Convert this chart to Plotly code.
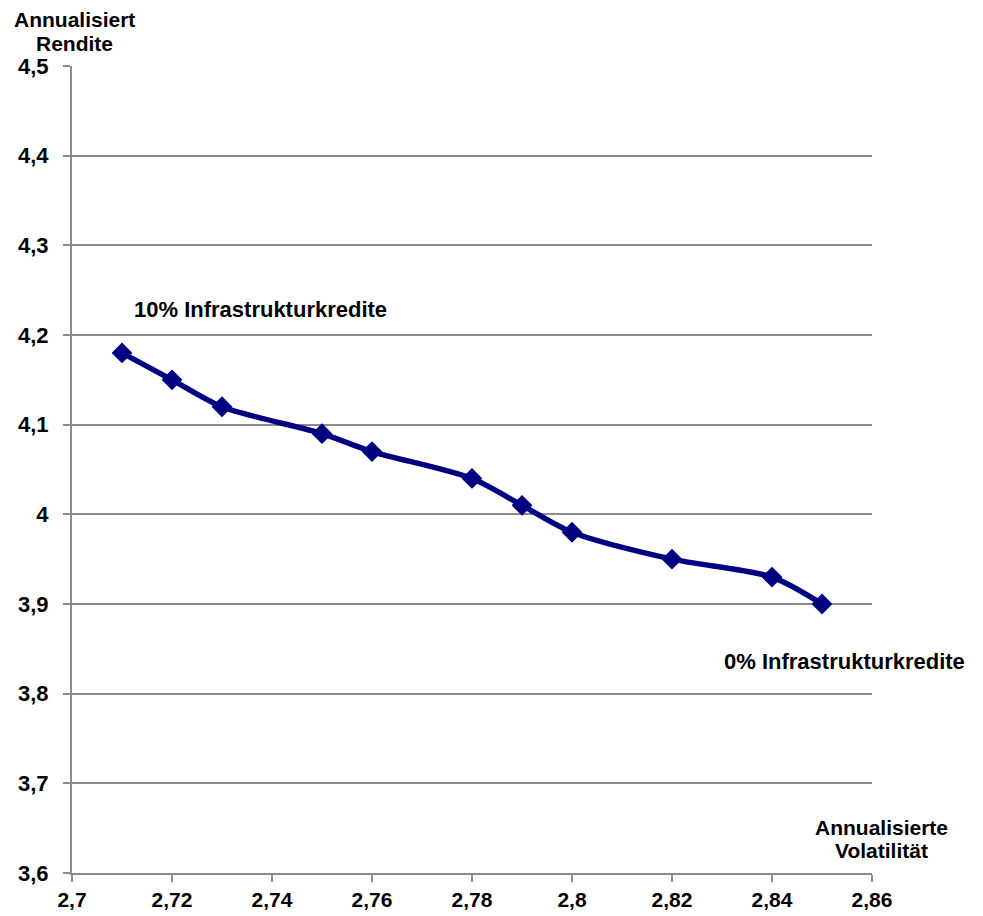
import plotly.graph_objects as go

# Efficient frontier: volatility vs. return for rising shares of infrastructure loans
volatility = [2.71, 2.72, 2.73, 2.75, 2.76, 2.78, 2.79, 2.80, 2.82, 2.84, 2.85]
rendite = [4.18, 4.15, 4.12, 4.09, 4.07, 4.04, 4.01, 3.98, 3.95, 3.93, 3.90]

x_ticks = [2.70, 2.72, 2.74, 2.76, 2.78, 2.80, 2.82, 2.84, 2.86]
x_tick_text = ["2,7", "2,72", "2,74", "2,76", "2,78", "2,8", "2,82", "2,84", "2,86"]
y_ticks = [3.6, 3.7, 3.8, 3.9, 4.0, 4.1, 4.2, 4.3, 4.4, 4.5]
y_tick_text = ["3,6", "3,7", "3,8", "3,9", "4", "4,1", "4,2", "4,3", "4,4", "4,5"]

FONT = "Liberation Sans, Arial, sans-serif"
NAVY = "#000080"
GRID = "#8c8c8c"

fig = go.Figure()
fig.add_trace(go.Scatter(
    x=volatility, y=rendite,
    mode="lines+markers",
    line=dict(color=NAVY, width=5.5, shape="spline", smoothing=0.8),
    marker=dict(symbol="diamond", size=16, color=NAVY),
    cliponaxis=False,
    showlegend=False,
))


def label(text, x, y, size, xref="paper", yref="paper", xanchor="center"):
    return dict(text=f"<b>{text}</b>", x=x, y=y, xref=xref, yref=yref,
                xanchor=xanchor, yanchor="middle", showarrow=False,
                font=dict(family=FONT, size=size, color="black"))


fig.update_layout(
    width=983, height=916,
    margin=dict(l=72, r=111, t=66, b=43),
    paper_bgcolor="white", plot_bgcolor="white",
    font=dict(family=FONT, color="black"),
    xaxis=dict(
        range=[2.70, 2.86], tickvals=x_ticks, ticktext=x_tick_text,
        showgrid=False, zeroline=False, automargin=False,
        showline=True, linecolor=GRID, linewidth=2,
        ticks="outside", ticklen=7, tickwidth=2, tickcolor=GRID,
        ticklabelstandoff=0,
        tickfont=dict(family=FONT, size=21, color="black", weight="bold"),
    ),
    yaxis=dict(
        range=[3.6, 4.5], tickvals=y_ticks, ticktext=y_tick_text,
        showgrid=True, gridcolor=GRID, gridwidth=2, zeroline=False,
        automargin=False,
        showline=True, linecolor=GRID, linewidth=2,
        ticks="outside", ticklen=7, tickwidth=2, tickcolor=GRID,
        ticklabelstandoff=10,
        tickfont=dict(family=FONT, size=22, color="black", weight="bold"),
    ),
    annotations=[
        label("10% Infrastrukturkredite", 2.712, 4.228, 22, "x", "y", "left"),
        label("0% Infrastrukturkredite", 2.830, 3.836, 22, "x", "y", "left"),
        label("Annualisiert", 0.0025, 1.0582, 21),
        label("Rendite", 0.0025, 1.0285, 21),
        label("Annualisierte", 1.012, 0.0570, 21),
        label("Volatilität", 1.012, 0.0285, 21),
    ],
)

fig.write_html("out.html")
